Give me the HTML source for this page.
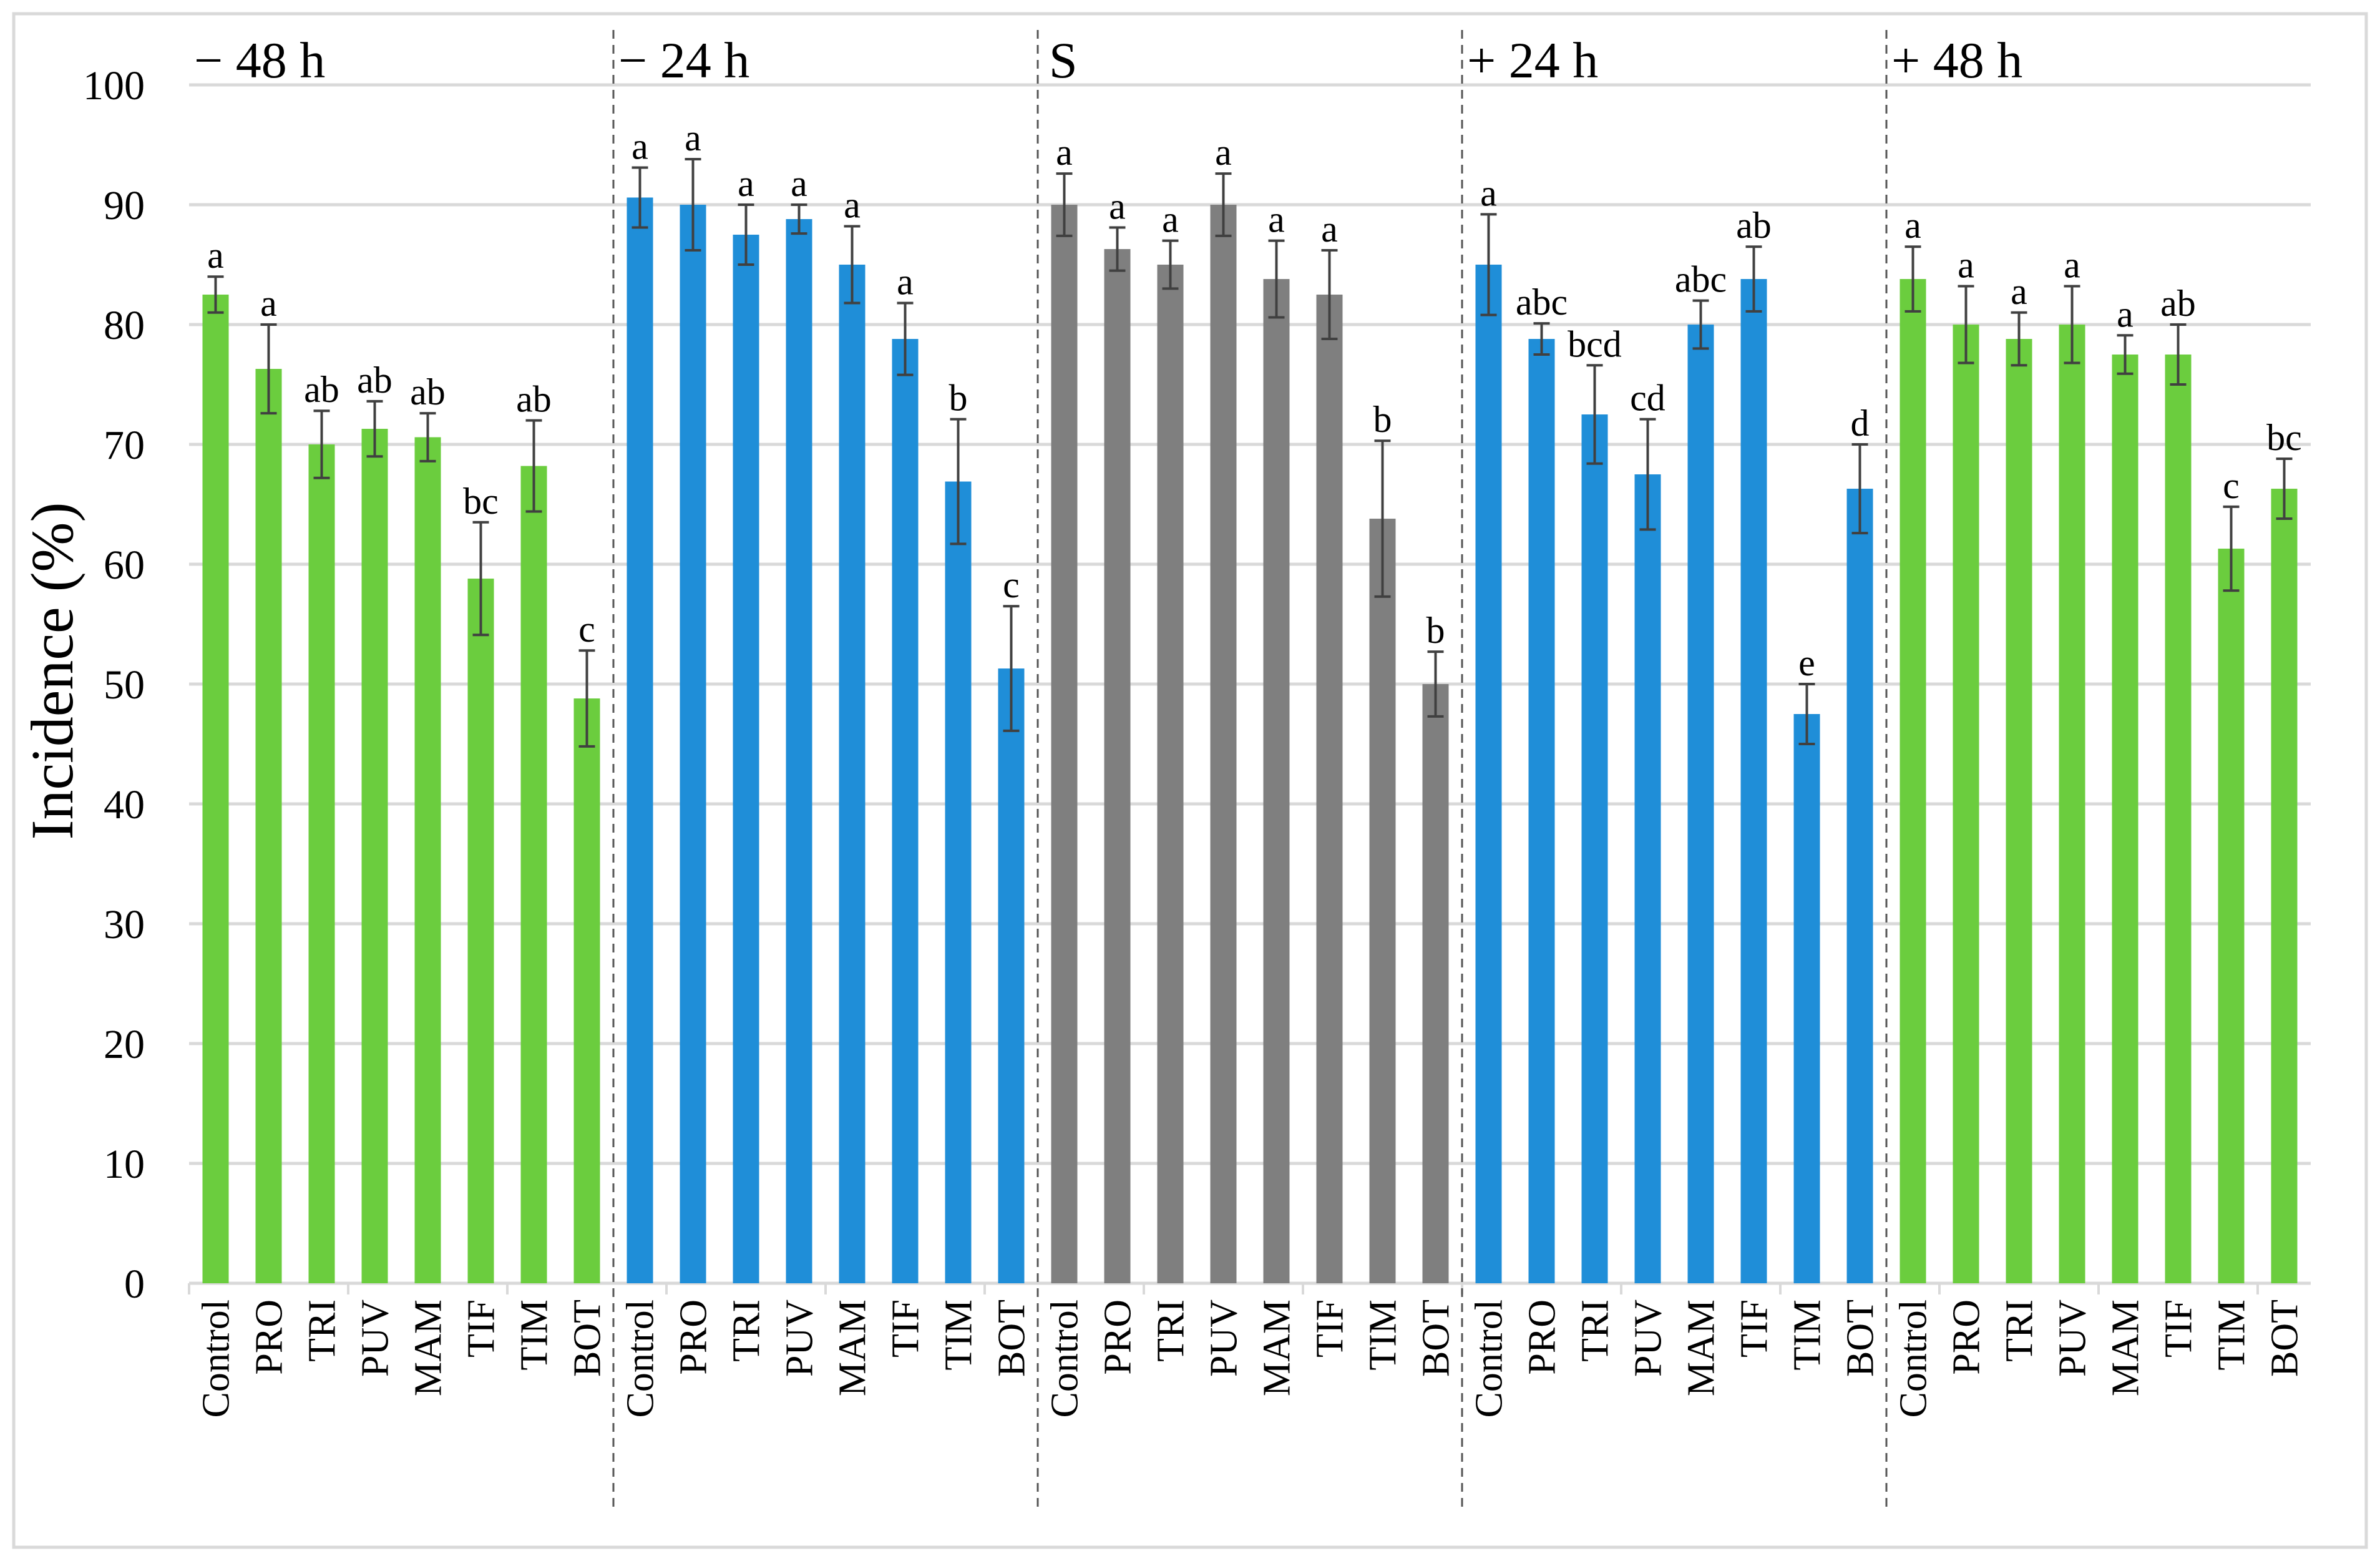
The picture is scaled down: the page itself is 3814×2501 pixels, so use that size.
<!DOCTYPE html>
<html><head><meta charset="utf-8"><style>
html,body{margin:0;padding:0;background:#fff;}
svg{display:block;font-family:"Liberation Serif",serif;}
</style></head><body>
<svg id="chart" width="3814" height="2501" viewBox="0 0 3814 2501" xmlns="http://www.w3.org/2000/svg">
<rect x="22" y="22" width="3770" height="2457" fill="#fff" stroke="#d9d9d9" stroke-width="5"/>
<g id="grid"></g><g id="bars"></g><g id="labels"></g>
<text x="0" y="0" transform="translate(116,1075) rotate(-90)" text-anchor="middle" font-size="96">Incidence  (%)</text>
</svg>
<script>
const groups = ["− 48 h","− 24 h","S","+ 24 h","+ 48 h"];
const groupColors = ["#6bcd3e","#1f8ed8","#7f7f7f","#1f8ed8","#6bcd3e"];
const categories = ["Control","PRO","TRI","PUV","MAM","TIF","TIM","BOT"];
const yTicks = [0,10,20,30,40,50,60,70,80,90,100];
const valsM48 = [82.5,76.3,70.0,71.3,70.6,58.8,68.2,48.8];
const errM48  = [1.5,3.7,2.8,2.3,2.0,4.7,3.8,4.0];
const letM48  = ["a","a","ab","ab","ab","bc","ab","c"];
const valsM24 = [90.6,90.0,87.5,88.8,85.0,78.8,66.9,51.3];
const errM24  = [2.5,3.8,2.5,1.2,3.2,3.0,5.2,5.2];
const letM24  = ["a","a","a","a","a","a","b","c"];
const valsS   = [90.0,86.3,85.0,90.0,83.8,82.5,63.8,50.0];
const errS    = [2.6,1.8,2.0,2.6,3.2,3.7,6.5,2.7];
const letS    = ["a","a","a","a","a","a","b","b"];
const valsP24 = [85.0,78.8,72.5,67.5,80.0,83.8,47.5,66.3];
const errP24  = [4.2,1.3,4.1,4.6,2.0,2.7,2.5,3.7];
const letP24  = ["a","abc","bcd","cd","abc","ab","e","d"];
const valsP48 = [83.8,80.0,78.8,80.0,77.5,77.5,61.3,66.3];
const errP48  = [2.7,3.2,2.2,3.2,1.6,2.5,3.5,2.5];
const letP48  = ["a","a","a","a","a","ab","c","bc"];

const allVals=[valsM48,valsM24,valsS,valsP24,valsP48];
const allErr=[errM48,errM24,errS,errP24,errP48];
const allLet=[letM48,letM24,letS,letP24,letP48];
const NS="http://www.w3.org/2000/svg";
const X0=303, X1=3703, Y0=2056, Y100=136;
const nCat=groups.length*categories.length;
const step=(X1-X0)/nCat;
function y(v){return Y0-(v/100)*(Y0-Y100);}
function xc(i){return X0+step*(i+0.5);}
function mk(tag,attrs,parent,text){const e=document.createElementNS(NS,tag);for(const k in attrs)e.setAttribute(k,attrs[k]);if(text!==undefined)e.textContent=text;parent.appendChild(e);return e;}
const grid=document.getElementById('grid'),bars=document.getElementById('bars'),labels=document.getElementById('labels');
yTicks.forEach(t=>{
  if(t>0){const l=mk('line',{x1:X0,x2:X1,y1:y(t),y2:y(t),stroke:'#d9d9d9','stroke-width':5},grid);
  
  }
  const tx=mk('text',{x:232,y:y(t)+23,'text-anchor':'end','font-size':66},labels,String(t));
  
  
});
const ax=mk('line',{x1:X0,x2:X1,y1:Y0,y2:Y0,stroke:'#d9d9d9','stroke-width':5},grid);


for(let k=0;k<=nCat;k+=3){const tk=mk('line',{x1:X0+k*step,x2:X0+k*step,y1:Y0,y2:Y0+18,stroke:'#d9d9d9','stroke-width':4},grid);

}
groups.forEach((g,gi)=>{
  const gx=X0+gi*categories.length*step;
  if(gi>0){const d=mk('line',{x1:gx,x2:gx,y1:48,y2:2420,stroke:'#555','stroke-width':3,'stroke-dasharray':'14,10'},grid);
  
  }
  const gt=mk('text',{x:gx+(gi===2?18:8),y:124,'font-size':82},labels,g);
  
  
  categories.forEach((c,ci)=>{
    const i=gi*categories.length+ci, cx=xc(i), v=allVals[gi][ci], e=allErr[gi][ci], bw=42;
    const r=mk('rect',{x:cx-bw/2,y:y(v),width:bw,height:Y0-y(v),fill:groupColors[gi]},bars);
    
    
    const eb=mk('path',{d:`M${cx-13},${y(v+e)}H${cx+13}M${cx},${y(v+e)}V${y(v-e)}M${cx-13},${y(v-e)}H${cx+13}`,stroke:'#404040','stroke-width':4,fill:'none'},bars);
    
    
    const lt=mk('text',{x:cx,y:y(v+e)-14,'text-anchor':'middle','font-size':60},labels,allLet[gi][ci]);
    
    
    const cl=mk('text',{x:0,y:0,transform:`translate(${cx+21},2082) rotate(-90)`,'text-anchor':'end','font-size':62},labels,c);
    
    
  });
});
</script>
</body></html>
